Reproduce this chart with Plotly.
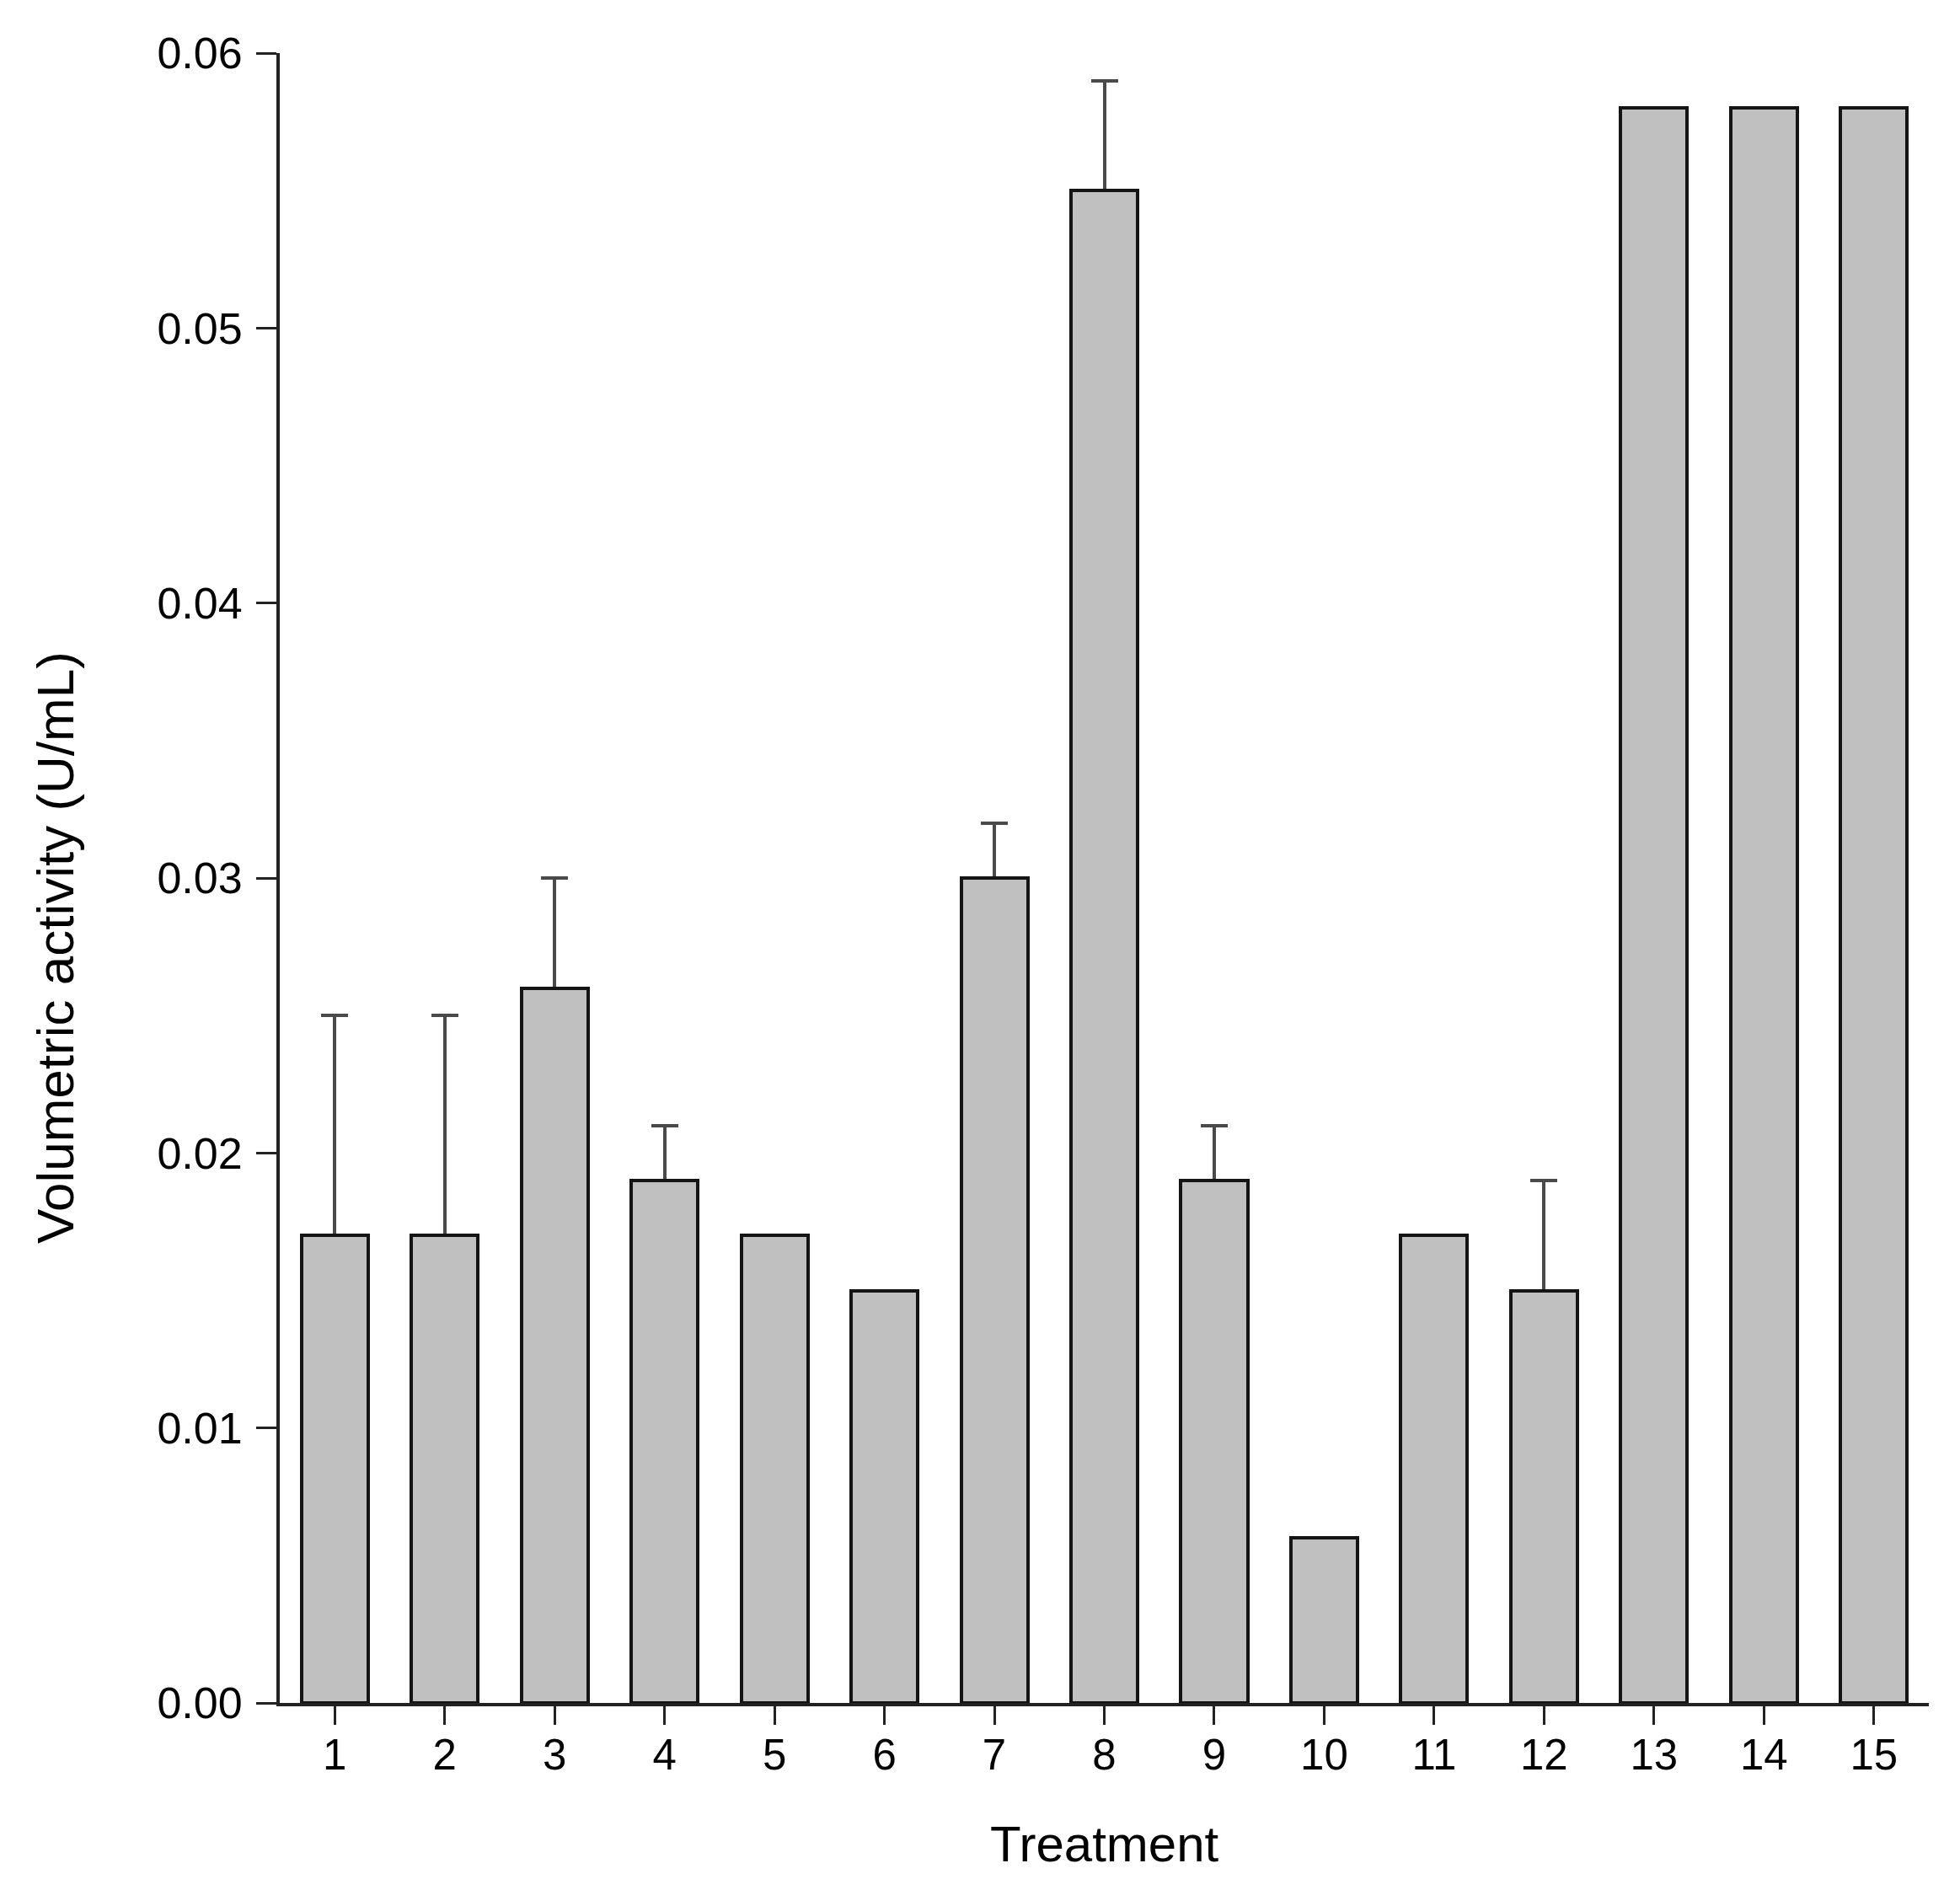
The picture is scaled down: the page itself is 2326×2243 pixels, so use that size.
import plotly.graph_objects as go

# Data
treatments = list(range(1, 16))
activity = [0.017, 0.017, 0.026, 0.019, 0.017, 0.015, 0.030, 0.055,
            0.019, 0.006, 0.017, 0.015, 0.058, 0.058, 0.058]
error_up = [0.008, 0.008, 0.004, 0.002, None, None, 0.002, 0.004,
            0.002, None, None, 0.004, None, None, None]
error_down = [0 if e is not None else None for e in error_up]
y_ticks = [0.00, 0.01, 0.02, 0.03, 0.04, 0.05, 0.06]

W, H = 2326, 2243
OFF = 8  # default body margin of the html page
L, R, T, B = 332 - OFF, 37 + OFF, 63 - OFF, 222 + OFF
plot_w = W - L - R
plot_h = H - T - B
plot_left = L + OFF
plot_bottom = H - B + OFF
bar_w = 0.606

fig = go.Figure()

# error bars on an invisible bar trace, drawn first so the visible bars
# hide the lower cap
fig.add_trace(go.Bar(
    x=treatments,
    y=activity,
    width=bar_w,
    marker=dict(color="rgba(0,0,0,0)", line=dict(width=0)),
    error_y=dict(
        type="data",
        symmetric=False,
        array=error_up,
        arrayminus=error_down,
        color="#4a4a4a",
        thickness=4,
        width=16,
    ),
    hoverinfo="skip",
    showlegend=False,
))

fig.add_trace(go.Bar(
    x=treatments,
    y=activity,
    width=bar_w,
    marker=dict(color="#c0c0c0", line=dict(color="#141414", width=4)),
    showlegend=False,
))

# Axis titles as annotations (y title sits below the axis centre)
fig.add_annotation(
    text="Volumetric activity (U/mL)",
    xref="paper", yref="paper",
    x=(65 - plot_left) / plot_w, y=(plot_bottom - 1125) / plot_h,
    xanchor="center", yanchor="middle",
    textangle=-90, showarrow=False,
    font=dict(size=62, color="black"),
)
fig.add_annotation(
    text="Treatment",
    xref="paper", yref="paper",
    x=0.5, y=(plot_bottom - 2188) / plot_h,
    xanchor="center", yanchor="middle",
    showarrow=False,
    font=dict(size=60, color="black"),
)

fig.update_layout(
    width=W,
    height=H,
    margin=dict(l=L, r=R, t=T, b=B),
    plot_bgcolor="white",
    paper_bgcolor="white",
    font=dict(family="Liberation Sans, Arial, sans-serif", size=51, color="black"),
    barmode="overlay",
    bargap=0,
)

fig.update_xaxes(
    range=[0.5, 15.5],
    tickmode="array",
    tickvals=treatments,
    ticktext=[str(t) for t in treatments],
    ticks="outside",
    ticklen=22,
    tickwidth=3,
    tickcolor="#222222",
    ticklabelstandoff=-8,
    showline=True,
    linecolor="#222222",
    linewidth=4,
    showgrid=False,
    zeroline=False,
    tickfont=dict(size=51),
)

fig.update_yaxes(
    range=[0, 0.06],
    tickmode="array",
    tickvals=y_ticks,
    ticktext=["%.2f" % v for v in y_ticks],
    ticks="outside",
    ticklen=24,
    tickwidth=3,
    tickcolor="#222222",
    ticklabelstandoff=6,
    showline=True,
    linecolor="#222222",
    linewidth=4,
    showgrid=False,
    zeroline=False,
    tickfont=dict(size=52),
)

fig.write_html("out.html")
